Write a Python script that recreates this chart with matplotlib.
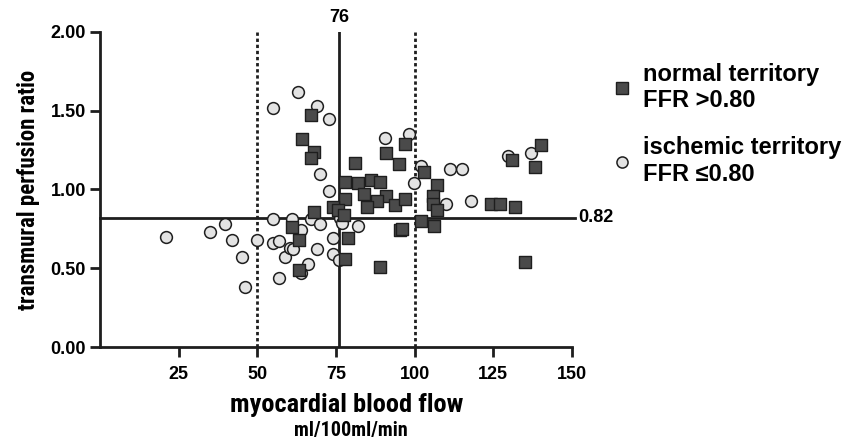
import matplotlib
matplotlib.use("Agg")
import matplotlib.pyplot as plt
from matplotlib.lines import Line2D
from matplotlib import font_manager

# ischemic territory (FFR <= 0.80)
isch_mbf = [21.0, 34.8, 39.8, 42.0, 45.0, 46.0, 49.9, 54.9, 54.9, 57.0, 57.0,
            58.9, 60.3, 61.2, 61.0, 64.0, 66.0, 64.0, 67.0, 69.8, 69.0, 73.9,
            74.0, 75.9, 76.2, 76.9, 82.0, 69.9, 72.9, 54.9, 63.0, 68.9, 72.9,
            90.7, 98.1, 99.9, 102.1, 111.1, 115.0, 110.0, 118.0, 129.8, 137.0]
isch_tpr = [0.70, 0.73, 0.78, 0.68, 0.57, 0.38, 0.68, 0.81, 0.66, 0.67, 0.44,
            0.57, 0.63, 0.62, 0.81, 0.74, 0.53, 0.47, 0.81, 0.78, 0.62, 0.69,
            0.59, 0.55, 0.82, 0.79, 0.77, 1.10, 0.99, 1.52, 1.62, 1.53, 1.45,
            1.33, 1.35, 1.04, 1.15, 1.13, 1.13, 0.91, 0.93, 1.21, 1.23]

# normal territory (FFR > 0.80)
norm_mbf = [64.1, 66.9, 67.9, 67.0, 81.0, 91.0, 94.9, 97.0, 77.9, 81.9, 86.0,
            89.0, 84.0, 77.9, 90.9, 88.0, 93.6, 97.0, 85.0, 67.9, 74.0, 75.5,
            77.7, 61.0, 63.1, 78.9, 77.9, 63.1, 89.0, 95.2, 96.0, 102.0, 106.0,
            103.0, 107.0, 105.8, 105.8, 107.0, 140.0, 131.0, 138.1, 124.1,
            127.1, 132.0, 135.0]
norm_tpr = [1.32, 1.47, 1.24, 1.20, 1.17, 1.23, 1.16, 1.29, 1.05, 1.04, 1.06,
            1.05, 0.97, 0.94, 0.96, 0.93, 0.90, 0.94, 0.89, 0.86, 0.89, 0.87,
            0.84, 0.76, 0.68, 0.69, 0.56, 0.49, 0.51, 0.74, 0.75, 0.80, 0.77,
            1.11, 1.03, 0.96, 0.91, 0.87, 1.28, 1.19, 1.14, 0.91, 0.91, 0.89,
            0.54]

mbf_cut = 76
tpr_cut = 0.82
mbf_bounds = [50, 100]
x_ticks = [25, 50, 75, 100, 125, 150]
y_ticks = [0.0, 0.5, 1.0, 1.5, 2.0]

bold = ['Liberation Sans', 'DejaVu Sans']
# pick a condensed face if one is installed
names = set(f.name for f in font_manager.fontManager.ttflist)
narrow = [n for n in ['Liberation Sans Narrow', 'DejaVu Sans Condensed',
                      'Roboto Condensed', 'Open Sans Condensed'] if n in names]
narrow = narrow + ['DejaVu Sans']
ink = '#1e1e1e'

fig = plt.figure(figsize=(8.46, 4.4), dpi=100)
ax = fig.add_axes([100/846, 93/440, 472/846, 315/440])

ax.axvline(mbf_cut, color=ink, lw=2.0, zorder=1)
for b in mbf_bounds:
    ax.axvline(b, color=ink, lw=2.0, ls=(0, (1.2, 1.0)), zorder=1)
ax.plot([0, 151], [tpr_cut, tpr_cut], color=ink, lw=2.0, clip_on=False, zorder=1)

ax.scatter(norm_mbf, norm_tpr, marker='s', s=72, c='#4a4a4a',
           edgecolors=ink, linewidths=1.0, zorder=3)
ax.scatter(isch_mbf, isch_tpr, marker='o', s=72, c='#e3e3e3',
           edgecolors=ink, linewidths=1.1, zorder=2)

ax.text(mbf_cut, 2.04, str(mbf_cut), ha='center', va='bottom',
        fontsize=13, fontweight='bold', family=bold)
ax.text(152, tpr_cut, '%.2f' % tpr_cut, ha='left', va='center',
        fontsize=13, fontweight='bold', family=bold)

ax.set_xlim(0, 150)
ax.set_ylim(0, 2.0)
ax.set_xticks(x_ticks)
ax.set_yticks(y_ticks)
ax.set_yticklabels(['%.2f' % v for v in y_ticks])
for s in ['top', 'right']:
    ax.spines[s].set_visible(False)
for s in ['left', 'bottom']:
    ax.spines[s].set_linewidth(2.0)
    ax.spines[s].set_color(ink)
ax.tick_params(axis='x', length=7, width=2, color=ink, pad=7)
ax.tick_params(axis='y', length=7, width=2, color=ink, pad=3)
for lab in ax.get_xticklabels() + ax.get_yticklabels():
    lab.set_fontweight('bold')
    lab.set_fontsize(13)
    lab.set_family(bold)

ax.set_ylabel('transmural perfusion ratio', fontsize=16.5, fontweight='bold',
              family=narrow, fontstretch='condensed', labelpad=8)
fig.text(347/846, 1 - 405/440, 'myocardial blood flow', ha='center', va='center',
         fontsize=19, fontweight='bold', family=narrow, fontstretch='condensed')
fig.text(351/846, 1 - 430/440, 'ml/100ml/min', ha='center', va='center',
         fontsize=14.5, fontweight='bold', family=narrow, fontstretch='condensed')

handles = [Line2D([], [], ls='none', marker='s', ms=8, mfc='#4a4a4a', mec=ink, mew=1.0),
           Line2D([], [], ls='none', marker='o', ms=8, mfc='#e3e3e3', mec=ink, mew=1.1)]
labels = ['normal territory\nFFR >0.80', 'ischemic territory\nFFR \u22640.80']
fig.legend(handles, labels, loc='upper left', bbox_to_anchor=(598/846, 1 - 51/440),
           frameon=False, prop={'family': bold, 'weight': 'bold', 'size': 17},
           handletextpad=0.42, handlelength=1.0, labelspacing=1.0, borderpad=0)

fig.savefig('out.png', dpi=100)
